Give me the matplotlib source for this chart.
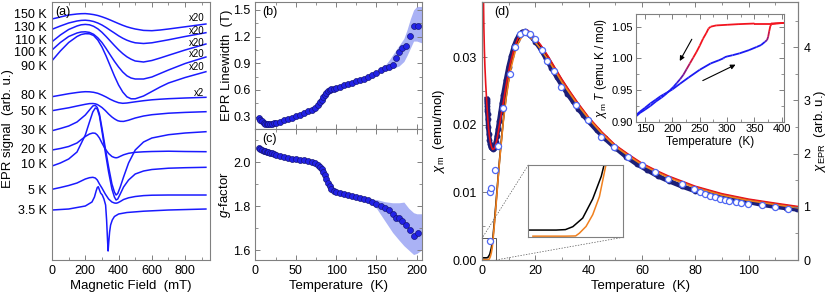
import numpy as np
import matplotlib.pyplot as plt
from matplotlib.collections import LineCollection
from matplotlib.ticker import MultipleLocator
from mpl_toolkits.axes_grid1.inset_locator import mark_inset

plt.rcParams['font.family'] = ['Liberation Sans', 'DejaVu Sans']
plt.rcParams['mathtext.fontset'] = 'custom'
plt.rcParams['mathtext.rm'] = 'Liberation Sans'
plt.rcParams['mathtext.it'] = 'Liberation Sans:italic'
plt.rcParams['font.size'] = 9
plt.rcParams['axes.edgecolor'] = '#808080'
plt.rcParams['axes.linewidth'] = 0.8
plt.rcParams['xtick.color'] = '#808080'
plt.rcParams['ytick.color'] = '#808080'
plt.rcParams['xtick.labelcolor'] = 'black'
plt.rcParams['ytick.labelcolor'] = 'black'

# ---- (a) EPR spectra, offset signal in arb. u. (downwards) ----
field = [0, 50, 100, 150, 175, 200, 225, 250, 275, 300, 325, 350, 375, 400,
         425, 450, 475, 500, 550, 600, 650, 700, 800, 925]
spec_150 = [19, 17, 15, 14, 13.7, 13.6, 14, 14.6, 15.5, 16.8, 18.3, 20, 21.8, 23.6,
            25.3, 26.8, 28, 29, 30.4, 30.7, 30, 29, 26.8, 24]
spec_130 = [29.3, 26, 23, 21, 20.4, 20.2, 20.6, 21.5, 23, 25, 27.5, 30.3, 33, 35.8,
            38.2, 40.2, 41.7, 42.8, 43.5, 42.8, 41.3, 39.8, 36.5, 32.7]
spec_110 = [41.7, 35, 29.5, 26, 24.8, 24.4, 24.8, 26.3, 28.8, 32.3, 36.5, 41, 45.5, 49.8,
            53.6, 56.8, 59.2, 61, 62, 60.5, 58, 55.3, 50, 44]
spec_100 = [50, 42.5, 36.5, 33, 32, 31.8, 32.4, 34.3, 37.8, 42.5, 48.5, 55, 61.3, 67,
            72, 75.8, 78, 79, 79, 77, 73.5, 70, 63.5, 57]
spec_90 = [60.7, 51, 42.5, 36.5, 34.5, 33.7, 33.8, 35.5, 40, 47, 56, 66, 76, 85,
           92, 96.8, 98.8, 98.8, 96, 91.5, 87, 83, 77.5, 71.7]
spec_80 = [96.7, 95.2, 93.7, 92.5, 92, 91.7, 91.8, 92.3, 93.3, 95, 97, 99.3, 101.2, 102.7,
           103.3, 103, 102.4, 101.8, 100.7, 99.8, 99.2, 98.7, 98, 97.3]

field_low = [0, 50, 100, 150, 200, 225, 245, 260, 272, 285, 300, 320, 340, 360, 375,
             385, 395, 410, 430, 460, 500, 550, 600, 700, 800, 925]
spec_50 = [110.7, 109.2, 107.8, 106, 104.3, 103.6, 103.5, 103.8, 104.5, 105.8, 107.5,
           110.5, 114, 117, 118.8, 119.8, 120.7, 121.3, 121.4, 120.2, 118, 116, 114.7,
           113.2, 112.4, 111.7]
spec_30 = [130.7, 128.5, 126, 122, 115, 110, 106, 105.3, 107.5, 114, 128, 148, 167, 184,
           192, 195, 193.5, 187, 177, 163, 150, 142, 138, 134.7, 133, 131.7]
spec_20 = [150, 148.5, 146.5, 143, 136.5, 134, 133, 133.3, 135, 138, 143, 149, 153.5,
           156.5, 157.5, 157.8, 157.5, 156.3, 154.8, 153.3, 152.3, 151.8, 151.5, 151.2,
           151.5, 151.7]
spec_10 = [166, 163, 159, 152, 135, 122, 112, 108, 109, 116, 131, 152, 172, 189, 197,
           200, 199, 194, 187, 180, 174, 171, 169.5, 168.2, 167.7, 167.3]
spec_5 = [189.3, 187.5, 185.5, 183, 179, 177.7, 177.3, 178, 180, 184, 188, 194, 199, 202,
          203, 203.2, 202.8, 201.5, 199.5, 197.8, 196.5, 195.6, 195.2, 195, 195, 195]
field_35 = [0, 100, 200, 240, 255, 265, 272, 278, 285, 292, 302, 312, 322, 328, 333, 337,
            341, 346, 352, 362, 375, 400, 450, 550, 700, 925]
spec_35 = [210, 209, 206, 202, 197, 191, 187.5, 186.7, 190, 193, 195, 199, 205, 220, 238, 251,
           242, 232, 225, 220, 216.5, 214, 212.5, 211.2, 210, 209]

spectra_high = [spec_150, spec_130, spec_110, spec_100, spec_90, spec_80]
spectra_low = [spec_50, spec_30, spec_20, spec_10, spec_5]
temp_labels = ['150 K', '130 K', '110 K', '100 K', '90 K', '80 K',
               '50 K', '30 K', '20 K', '10 K', '5 K', '3.5 K']
label_y = [15, 28, 41, 53, 67, 96, 111.7, 131, 150, 165, 191, 210.7]
scale_labels = ['x20', 'x20', 'x20', 'x20', 'x20', 'x2']
scale_y = [17.5, 31, 42.5, 54, 66.5, 93]

# ---- (b), (c) linewidth and g-factor ----
T_epr = [4, 6, 8, 10, 12, 14, 16, 18, 20, 23, 26, 30, 35, 40, 45, 50, 55, 60, 65, 70,
         74, 77, 80, 82, 84, 86, 88, 90, 92, 94, 97, 100, 105, 110, 115, 120, 125, 130,
         135, 140, 145, 150, 155, 160, 165, 170, 174, 178, 182, 186, 191, 196, 201]
linewidth = [0.285, 0.265, 0.245, 0.23, 0.222, 0.216, 0.214, 0.215, 0.218, 0.224, 0.231,
             0.242, 0.258, 0.272, 0.288, 0.305, 0.322, 0.34, 0.358, 0.378, 0.40, 0.425,
             0.46, 0.49, 0.52, 0.545, 0.568, 0.585, 0.597, 0.606, 0.615, 0.622, 0.635,
             0.65, 0.665, 0.68, 0.695, 0.71, 0.725, 0.745, 0.77, 0.79, 0.82, 0.845,
             0.855, 0.885, 0.96, 1.03, 1.07, 1.09, 1.21, 1.32, 1.32]
g_factor = [2.062, 2.058, 2.055, 2.052, 2.05, 2.047, 2.045, 2.043, 2.04, 2.036, 2.033,
            2.029, 2.024, 2.02, 2.016, 2.013, 2.01, 2.007, 2.004, 2.0, 1.995, 1.988,
            1.978, 1.968, 1.955, 1.94, 1.922, 1.905, 1.89, 1.878, 1.868, 1.862, 1.858,
            1.855, 1.851, 1.847, 1.843, 1.838, 1.832, 1.826, 1.818, 1.81, 1.80, 1.79,
            1.78, 1.765, 1.745, 1.745, 1.73, 1.715, 1.69, 1.662, 1.677]
T_band_lw = [140, 150, 160, 166, 172, 178, 184, 188, 192, 196, 200, 206]
lw_upper = [0.74, 0.80, 0.87, 0.94, 1.02, 1.10, 1.18, 1.28, 1.40, 1.50, 1.54, 1.54]
lw_lower = [0.73, 0.77, 0.82, 0.83, 0.85, 0.87, 0.92, 0.99, 1.07, 1.15, 1.15, 1.13]
T_band_g = [140, 150, 160, 170, 178, 184, 190, 196, 200, 206]
g_upper = [1.83, 1.83, 1.82, 1.815, 1.815, 1.818, 1.79, 1.77, 1.765, 1.765]
g_lower = [1.82, 1.79, 1.735, 1.68, 1.645, 1.62, 1.60, 1.58, 1.585, 1.60]

# ---- (d) susceptibility ----
T_meas = [1.8, 1.85, 1.9, 1.95, 2.0, 2.05, 2.1, 2.2, 2.4, 2.6, 2.8, 3.0, 3.3, 3.6, 4.0,
          4.4, 4.8, 5.2, 5.6, 6.0, 6.5, 7, 7.5, 8, 9, 10, 11, 12, 13, 14, 15, 16, 17,
          18, 19, 20, 22, 24, 26, 28, 30, 32, 34, 36, 38, 40, 43, 46, 50, 54, 58, 62,
          66, 70, 75, 80, 85, 90, 95, 100, 105, 110, 114, 118]
chi_meas = [0.0238, 0.0235, 0.0232, 0.0228, 0.0224, 0.0220, 0.0216, 0.0208, 0.0196,
            0.0186, 0.0178, 0.0172, 0.0167, 0.0165, 0.0164, 0.0165, 0.0168, 0.0174,
            0.0183, 0.0193, 0.0206, 0.0219, 0.0232, 0.0244, 0.0266, 0.0286, 0.0302,
            0.0316, 0.0326, 0.0333, 0.0337, 0.0338, 0.0336, 0.0332, 0.0328, 0.0323,
            0.0312, 0.0298, 0.0284, 0.0271, 0.0258, 0.0246, 0.0235, 0.0224, 0.0214,
            0.0205, 0.0192, 0.0180, 0.0166, 0.0153, 0.0142, 0.0133, 0.0124, 0.0117,
            0.0109, 0.0102, 0.0097, 0.0093, 0.0089, 0.0086, 0.0082, 0.0079, 0.0077, 0.0075]

T_red = [0.55, 0.7, 0.9, 1.1, 1.4, 1.75, 2.1, 2.4, 2.8, 3.25, 3.6, 4.0, 4.5, 4.9, 5.5,
         6.1, 7.0, 8.0, 9.0, 10.5, 12, 13, 14, 15, 16, 17, 18, 20, 22, 25, 28, 30, 33,
         36, 40, 45, 50, 55, 60, 65, 70, 80, 90, 100, 110, 118.7]
chi_red = [0.0390, 0.0345, 0.031, 0.0286, 0.026, 0.0236, 0.0213, 0.0197, 0.0183, 0.0172,
           0.0167, 0.01635, 0.01645, 0.0167, 0.0176, 0.0189, 0.0210, 0.0233, 0.0257,
           0.0289, 0.0311, 0.0323, 0.0332, 0.0337, 0.0340, 0.0340, 0.0337, 0.0328,
           0.0318, 0.0300, 0.0280, 0.0267, 0.0249, 0.0232, 0.0211, 0.0189, 0.0170,
           0.0156, 0.0143, 0.0133, 0.0124, 0.0109, 0.0098, 0.0090, 0.0084, 0.0079]

T_black = [0, 0.5, 1.0, 1.5, 2.0, 2.4, 2.93, 3.47, 3.93, 4.08, 4.5, 5.0, 5.5, 6.0, 6.5,
           7.0, 8, 9, 10, 11, 12, 13, 14, 15, 16, 17, 18, 20, 22, 25, 28, 30, 33, 36,
           40, 45, 50, 55, 60, 65, 70, 80, 90, 100, 110, 118.7]
chi_black = [0.00032, 0.00032, 0.00032, 0.00032, 0.00034, 0.00047, 0.00085, 0.0017,
             0.0027, 0.0032, 0.0050, 0.0072, 0.0096, 0.0120, 0.0144, 0.0166, 0.0207,
             0.0240, 0.0268, 0.0290, 0.0307, 0.0320, 0.0330, 0.0336, 0.0339, 0.0339,
             0.0336, 0.0327, 0.0317, 0.0299, 0.0279, 0.0266, 0.0248, 0.0231, 0.0210,
             0.0188, 0.0169, 0.0155, 0.0142, 0.0132, 0.0123, 0.0108, 0.0097, 0.0089,
             0.0083, 0.0078]

T_orange = [0.25, 1.0, 2.0, 2.55, 2.75, 3.11, 3.47, 3.83, 4.18, 4.5, 5.0, 5.5, 6.0, 6.5,
            7.0, 8, 9, 10, 11, 12, 13, 14, 15, 16, 17, 18, 20, 22, 25, 28, 30, 33, 36,
            40, 45, 50, 55, 60, 65, 70, 80, 90, 100, 110, 118.7]
chi_orange = [0.00005, 0.00005, 0.00005, 0.00006, 0.00018, 0.00048, 0.0010, 0.0018,
              0.0032, 0.0046, 0.0068, 0.0093, 0.0118, 0.0142, 0.0164, 0.0205, 0.0238,
              0.0264, 0.0286, 0.0302, 0.0315, 0.0324, 0.0330, 0.0333, 0.0333, 0.0330,
              0.0322, 0.0312, 0.0295, 0.0276, 0.0263, 0.0246, 0.0229, 0.0209, 0.0187,
              0.0168, 0.0154, 0.0141, 0.0131, 0.0122, 0.0107, 0.0096, 0.0088, 0.0082, 0.0077]

T_chi_epr = [3.1, 3.0, 3.4, 4.9, 6.1, 8.0, 10.5, 12.5, 14.3, 16.1, 18.0, 19.9, 22.4, 24.5,
             27.0, 29.6, 35.1, 39.9, 44.6, 49.6, 54.9, 59.9, 64.9, 69.9, 74.9, 79.5,
             81.7, 83.5, 85.5, 87.3, 89.2, 91.0, 92.8, 95.3, 97.3, 99.9, 104.9, 109.9, 114.9]
chi_epr = [0.36, 1.28, 1.35, 1.69, 2.15, 2.85, 3.5, 4.0, 4.25, 4.28, 4.25, 4.16, 3.94,
           3.75, 3.55, 3.26, 2.92, 2.63, 2.31, 2.13, 1.94, 1.78, 1.66, 1.53, 1.42, 1.33,
           1.28, 1.24, 1.21, 1.18, 1.15, 1.13, 1.11, 1.09, 1.07, 1.05, 1.03, 0.99, 0.95]

# ---- inset: chi*T hysteresis ----
T_warm = [133, 141, 150, 160, 170, 178, 184, 190, 200, 214, 230, 250, 270, 285, 293,
          296, 300, 310, 323, 340, 354, 362, 369, 373, 375, 377, 379, 381, 390, 404]
chiT_warm = [0.910, 0.916, 0.922, 0.929, 0.935, 0.940, 0.943, 0.946, 0.951, 0.960,
             0.970, 0.982, 0.992, 0.997, 1.000, 1.002, 1.003, 1.005, 1.008, 1.013,
             1.018, 1.021, 1.026, 1.029, 1.034, 1.043, 1.051, 1.054, 1.055, 1.056]
T_cool = [404, 380, 350, 320, 300, 280, 270, 266, 262, 256, 250, 244, 238, 232, 226,
          220, 214, 208, 202, 196, 190, 186, 180, 170, 160, 150, 141, 133]
chiT_cool = [1.056, 1.055, 1.055, 1.054, 1.053, 1.052, 1.050, 1.047, 1.040, 1.031,
             1.020, 1.010, 1.001, 0.992, 0.983, 0.974, 0.967, 0.961, 0.955, 0.950,
             0.945, 0.942, 0.938, 0.932, 0.925, 0.919, 0.914, 0.908]

RED = np.array([0.95, 0.08, 0.12])
BLUE = np.array([0.1, 0.1, 0.95])


def style_ax(ax, right=True, top=True):
    ax.tick_params(direction='in', which='both', top=top, right=right, labelsize=9)
    ax.tick_params(which='major', length=3.5, width=0.7)
    ax.tick_params(which='minor', length=2, width=0.6)


def colored_line(ax, T, y, t_red, t_blue):
    pts = np.column_stack([T, y])
    segs = np.stack([pts[:-1], pts[1:]], axis=1)
    mid = 0.5 * (np.asarray(T[:-1]) + np.asarray(T[1:]))
    f = np.clip((mid - t_blue) / (t_red - t_blue), 0, 1)[:, None]
    cols = f * RED + (1 - f) * BLUE
    ax.add_collection(LineCollection(segs, colors=cols, linewidths=1.3))


fig = plt.figure(figsize=(8.3, 2.94), dpi=100)

# (a)
ax_a = fig.add_axes([0.0627, 0.1156, 0.1904, 0.8776])
for s in spectra_high:
    ax_a.plot(field, s, color='#1a1aff', lw=1.1)
for s in spectra_low:
    ax_a.plot(field_low, s, color='#1a1aff', lw=1.1)
ax_a.plot(field_35, spec_35, color='#1a1aff', lw=1.1)
ax_a.set_xlim(0, 950)
ax_a.set_ylim(260, 2)
ax_a.set_yticks([])
ax_a.xaxis.set_major_locator(MultipleLocator(200))
ax_a.xaxis.set_minor_locator(MultipleLocator(100))
style_ax(ax_a, right=False)
for lab, y in zip(temp_labels, label_y):
    ax_a.text(-0.035, y, lab, transform=ax_a.get_yaxis_transform(), ha='right',
              va='center', fontsize=9)
for lab, y in zip(scale_labels, scale_y):
    ax_a.text(915, y, lab, ha='right', va='center', fontsize=7)
ax_a.text(0.02, 0.985, '(a)', transform=ax_a.transAxes, ha='left', va='top', fontsize=9)
ax_a.set_xlabel('Magnetic Field  (mT)', fontsize=9.5, labelpad=2)
ax_a.set_ylabel('EPR signal  (arb. u.)', fontsize=9.5)
ax_a.yaxis.set_label_coords(-0.24, 0.51)

# (b)
ax_b = fig.add_axes([0.3078, 0.5612, 0.2002, 0.432])
ax_b.fill_between(T_band_lw, lw_lower, lw_upper, color='#aab2f5', lw=0)
ax_b.plot(T_epr, linewidth, 'o', ms=4.3, mfc='#2222e6', mec='#15157a', mew=0.5)
ax_b.set_xlim(0, 206)
ax_b.set_ylim(0.16, 1.59)
ax_b.xaxis.set_major_locator(MultipleLocator(50))
ax_b.xaxis.set_minor_locator(MultipleLocator(25))
ax_b.yaxis.set_major_locator(MultipleLocator(0.3))
ax_b.yaxis.set_minor_locator(MultipleLocator(0.15))
ax_b.tick_params(labelbottom=False)
style_ax(ax_b)
ax_b.text(0.04, 0.97, '(b)', transform=ax_b.transAxes, ha='left', va='top', fontsize=9)
ax_b.set_ylabel('EPR Linewidth  (T)', fontsize=9.5)
ax_b.yaxis.set_label_coords(-0.135, 0.5)

# (c)
ax_c = fig.add_axes([0.3078, 0.1156, 0.2002, 0.4456])
ax_c.fill_between(T_band_g, g_lower, g_upper, color='#aab2f5', lw=0)
ax_c.plot(T_epr, g_factor, 'o', ms=4.3, mfc='#2222e6', mec='#15157a', mew=0.5)
ax_c.set_xlim(0, 206)
ax_c.set_ylim(1.555, 2.15)
ax_c.xaxis.set_major_locator(MultipleLocator(50))
ax_c.xaxis.set_minor_locator(MultipleLocator(25))
ax_c.yaxis.set_major_locator(MultipleLocator(0.2))
ax_c.yaxis.set_minor_locator(MultipleLocator(0.1))
style_ax(ax_c)
ax_c.text(0.04, 0.97, '(c)', transform=ax_c.transAxes, ha='left', va='top', fontsize=9)
ax_c.set_ylabel('$g$-factor', fontsize=9.5)
ax_c.yaxis.set_label_coords(-0.135, 0.5)
ax_c.set_xlabel('Temperature  (K)', fontsize=9.5, labelpad=2)

# (d)
ax_d = fig.add_axes([0.5807, 0.1156, 0.3813, 0.8776])
ax_d.plot(T_meas, chi_meas, 'o-', color='#1c1f78', ms=4.2, lw=3.4, mew=0)
ax_d.plot(T_black, chi_black, color='k', lw=1.2)
ax_d.plot(T_red, chi_red, color='#e8141c', lw=1.2)
ax_d.plot(T_orange, chi_orange, color='#f0801e', lw=1.2)
ax_d.set_xlim(0, 118.7)
ax_d.set_ylim(0, 0.03815)
ax_d.xaxis.set_major_locator(MultipleLocator(20))
ax_d.xaxis.set_minor_locator(MultipleLocator(10))
ax_d.yaxis.set_major_locator(MultipleLocator(0.01))
ax_d.yaxis.set_minor_locator(MultipleLocator(0.005))
ax_d.yaxis.set_major_formatter(plt.FormatStrFormatter('%.2f'))
style_ax(ax_d, right=False)
ax_d.text(0.04, 0.985, '(d)', transform=ax_d.transAxes, ha='left', va='top', fontsize=9)
ax_d.set_xlabel('Temperature  (K)', fontsize=9.5, labelpad=2)
ax_d.set_ylabel(r'$\chi_{\rm m}$  (emu/mol)', fontsize=9.5)
ax_d.yaxis.set_label_coords(-0.11, 0.5)

ax_r = ax_d.twinx()
ax_r.plot(T_chi_epr, chi_epr, 'o', ms=4.4, mfc='white', mec='#5068f2', mew=0.9)
ax_r.set_ylim(0, 4.85)
ax_r.yaxis.set_major_locator(MultipleLocator(1))
ax_r.yaxis.set_minor_locator(MultipleLocator(0.5))
ax_r.tick_params(direction='in', which='both', labelsize=9)
ax_r.tick_params(which='major', length=3.5, width=0.7)
ax_r.tick_params(which='minor', length=2, width=0.6)
ax_r.set_ylabel(r'$\chi_{\rm EPR}$  (arb. u.)', fontsize=9.5)
ax_r.yaxis.set_label_coords(1.042, 0.5)

# zoom inset in (d)
ax_z = fig.add_axes([0.6365, 0.1929, 0.1141, 0.2459])
ax_z.plot(T_black, chi_black, color='k', lw=1.1)
ax_z.plot(T_orange, chi_orange, color='#f0801e', lw=1.1)
ax_z.set_xlim(0, 5.1)
ax_z.set_ylim(0, 0.0032)
ax_z.set_xticks([])
ax_z.set_yticks([])
_, c1, c2 = mark_inset(ax_d, ax_z, loc1=2, loc2=4, fc='none', ec='#555555', lw=0.7)
c1.set_linestyle((0, (2, 2)))
c2.set_linestyle((0, (2, 2)))
c1.set_linewidth(0.5)
c2.set_linewidth(0.5)

# chi*T inset
ax_i = fig.add_axes([0.7659, 0.586, 0.1787, 0.3663])
colored_line(ax_i, T_warm, chiT_warm, 378, 368)
colored_line(ax_i, T_cool, chiT_cool, 240, 205)
ax_i.annotate('', xy=(211, 0.992), xytext=(238, 1.034),
              arrowprops=dict(arrowstyle='-|>', color='k', lw=0.8, mutation_scale=7))
ax_i.annotate('', xy=(320, 0.992), xytext=(251, 0.963),
              arrowprops=dict(arrowstyle='-|>', color='k', lw=0.8, mutation_scale=7))
ax_i.set_xlim(133, 404)
ax_i.set_ylim(0.90, 1.07)
ax_i.xaxis.set_major_locator(MultipleLocator(50))
ax_i.xaxis.set_minor_locator(MultipleLocator(25))
ax_i.yaxis.set_major_locator(MultipleLocator(0.05))
ax_i.yaxis.set_minor_locator(MultipleLocator(0.025))
ax_i.yaxis.set_major_formatter(plt.FormatStrFormatter('%.2f'))
style_ax(ax_i)
ax_i.tick_params(labelsize=8, pad=2)
ax_i.set_xlabel('Temperature  (K)', fontsize=8.5, labelpad=1)
ax_i.set_ylabel(r'$\chi_{\rm m}$ $T$ (emu K / mol)', fontsize=8.5, labelpad=2)

fig.savefig('out.png', dpi=100)
